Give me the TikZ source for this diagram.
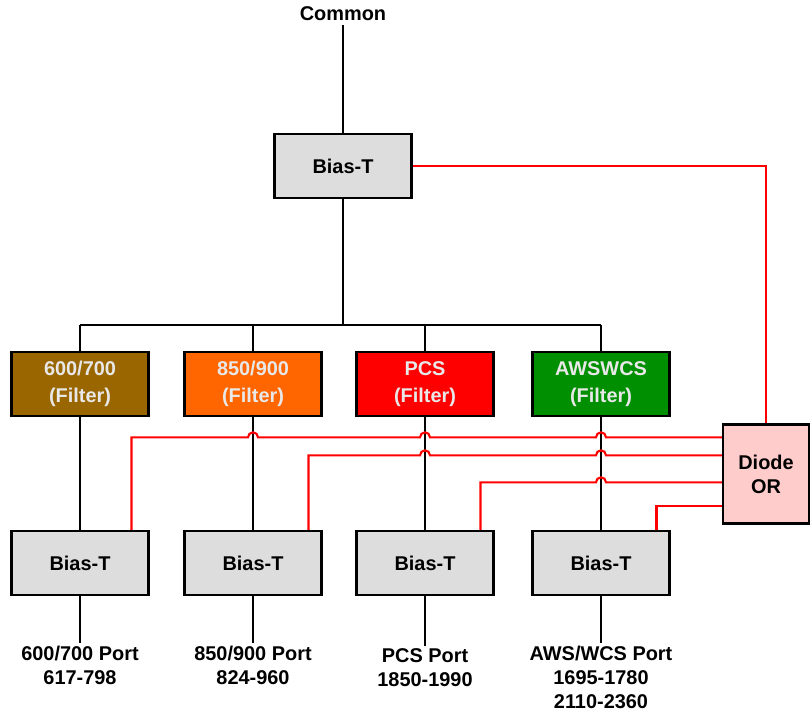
\documentclass[tikz,border=0pt]{standalone}
\usepackage{fontspec}
\setmainfont{Liberation Sans}
\usetikzlibrary{calc}

\definecolor{filterA}{HTML}{996600}
\definecolor{filterB}{HTML}{FF6600}
\definecolor{filterC}{HTML}{FF0000}
\definecolor{filterD}{HTML}{008F00}
\definecolor{boxgray}{HTML}{DDDDDD}
\definecolor{diodepink}{HTML}{FFCCCC}
\definecolor{filtertext}{HTML}{E8E8E8}

\begin{document}
\begin{tikzpicture}[x=0.03cm,y=-0.03cm,
  every node/.style={font=\bfseries\fontsize{17}{20.5}\selectfont},
  blk/.style={draw=black,line width=2pt,minimum width=4.1cm,minimum height=1.92cm,align=center,inner sep=0pt},
  biasbox/.style={blk,fill=boxgray},
  filterbox/.style={blk,text=filtertext},
  portlabel/.style={anchor=north,align=center,inner sep=2pt},
  wire/.style={line width=2pt},
  rwire/.style={draw=red,line width=1.8pt}]
  \useasboundingbox (0,0) rectangle (812,714);

  % top of the chain
  \node (common) at (343,14) {Common};
  \node[biasbox] (top) at (343,166) {Bias-T};
  \coordinate (bus) at (343,325);

  % filters
  \node[filterbox,fill=filterA] (f1) at (80,384) {600/700\\[2pt](Filter)};
  \node[filterbox,fill=filterB] (f2) at (253,384) {850/900\\[2pt](Filter)};
  \node[filterbox,fill=filterC] (f3) at (425,384) {PCS\\[2pt](Filter)};
  \node[filterbox,fill=filterD] (f4) at (601,384) {AWSWCS\\[2pt](Filter)};

  % bias-T per band
  \foreach \x [count=\i] in {80,253,425,601}
    \node[biasbox] (b\i) at (\x,563) {Bias-T};

  \node[blk,fill=diodepink,minimum width=2.58cm,minimum height=2.97cm] (dor) at (766,474) {Diode\\OR};

  % ports
  \node[portlabel] (p1) at (80,643) {600/700 Port\\617-798};
  \node[portlabel] (p2) at (253,643) {850/900 Port\\824-960};
  \node[portlabel] (p3) at (425,646) {PCS Port\\1850-1990};
  \node[portlabel] (p4) at (601,643) {AWS/WCS Port\\1695-1780\\2110-2360};

  % signal path
  \draw[wire] (common) -- (top);
  \draw[wire] (top) -- (bus);
  \draw[wire] (f1 |- bus) -- (f4 |- bus);
  \foreach \i in {1,...,4} {
    \draw[wire] (f\i |- bus) -- (f\i);
    \draw[wire] (f\i) -- (b\i);
    \draw[wire] (b\i) -- (p\i);
  }

  % dc feed
  \draw[rwire] (top) -| (dor);
  \coordinate (r1) at ($(dor.north west)+(0,14)$);
  \coordinate (r2) at ($(dor.north west)+(0,32)$);
  \coordinate (r3) at ($(dor.north west)+(0,59)$);
  \coordinate (r4) at ($(dor.north west)+(0,83)$);
  \draw[rwire] (r1) \foreach \f in {f4,f3,f2} {
      -- ($(\f |- r1)+(5,0)$) arc[start angle=0,end angle=180,radius=0.15cm] }
    -| ($(b1.north east)+(-18,0)$);
  \draw[rwire] (r2) \foreach \f in {f4,f3} {
      -- ($(\f |- r2)+(5,0)$) arc[start angle=0,end angle=180,radius=0.15cm] }
    -| ($(b2.north east)+(-14,0)$);
  \draw[rwire] (r3) -- ($(f4 |- r3)+(5,0)$) arc[start angle=0,end angle=180,radius=0.15cm]
    -| ($(b3.north east)+(-14,0)$);
  \draw[rwire] (r4) -| ($(b4.north east)+(-14,0)$);
\end{tikzpicture}
\end{document}
